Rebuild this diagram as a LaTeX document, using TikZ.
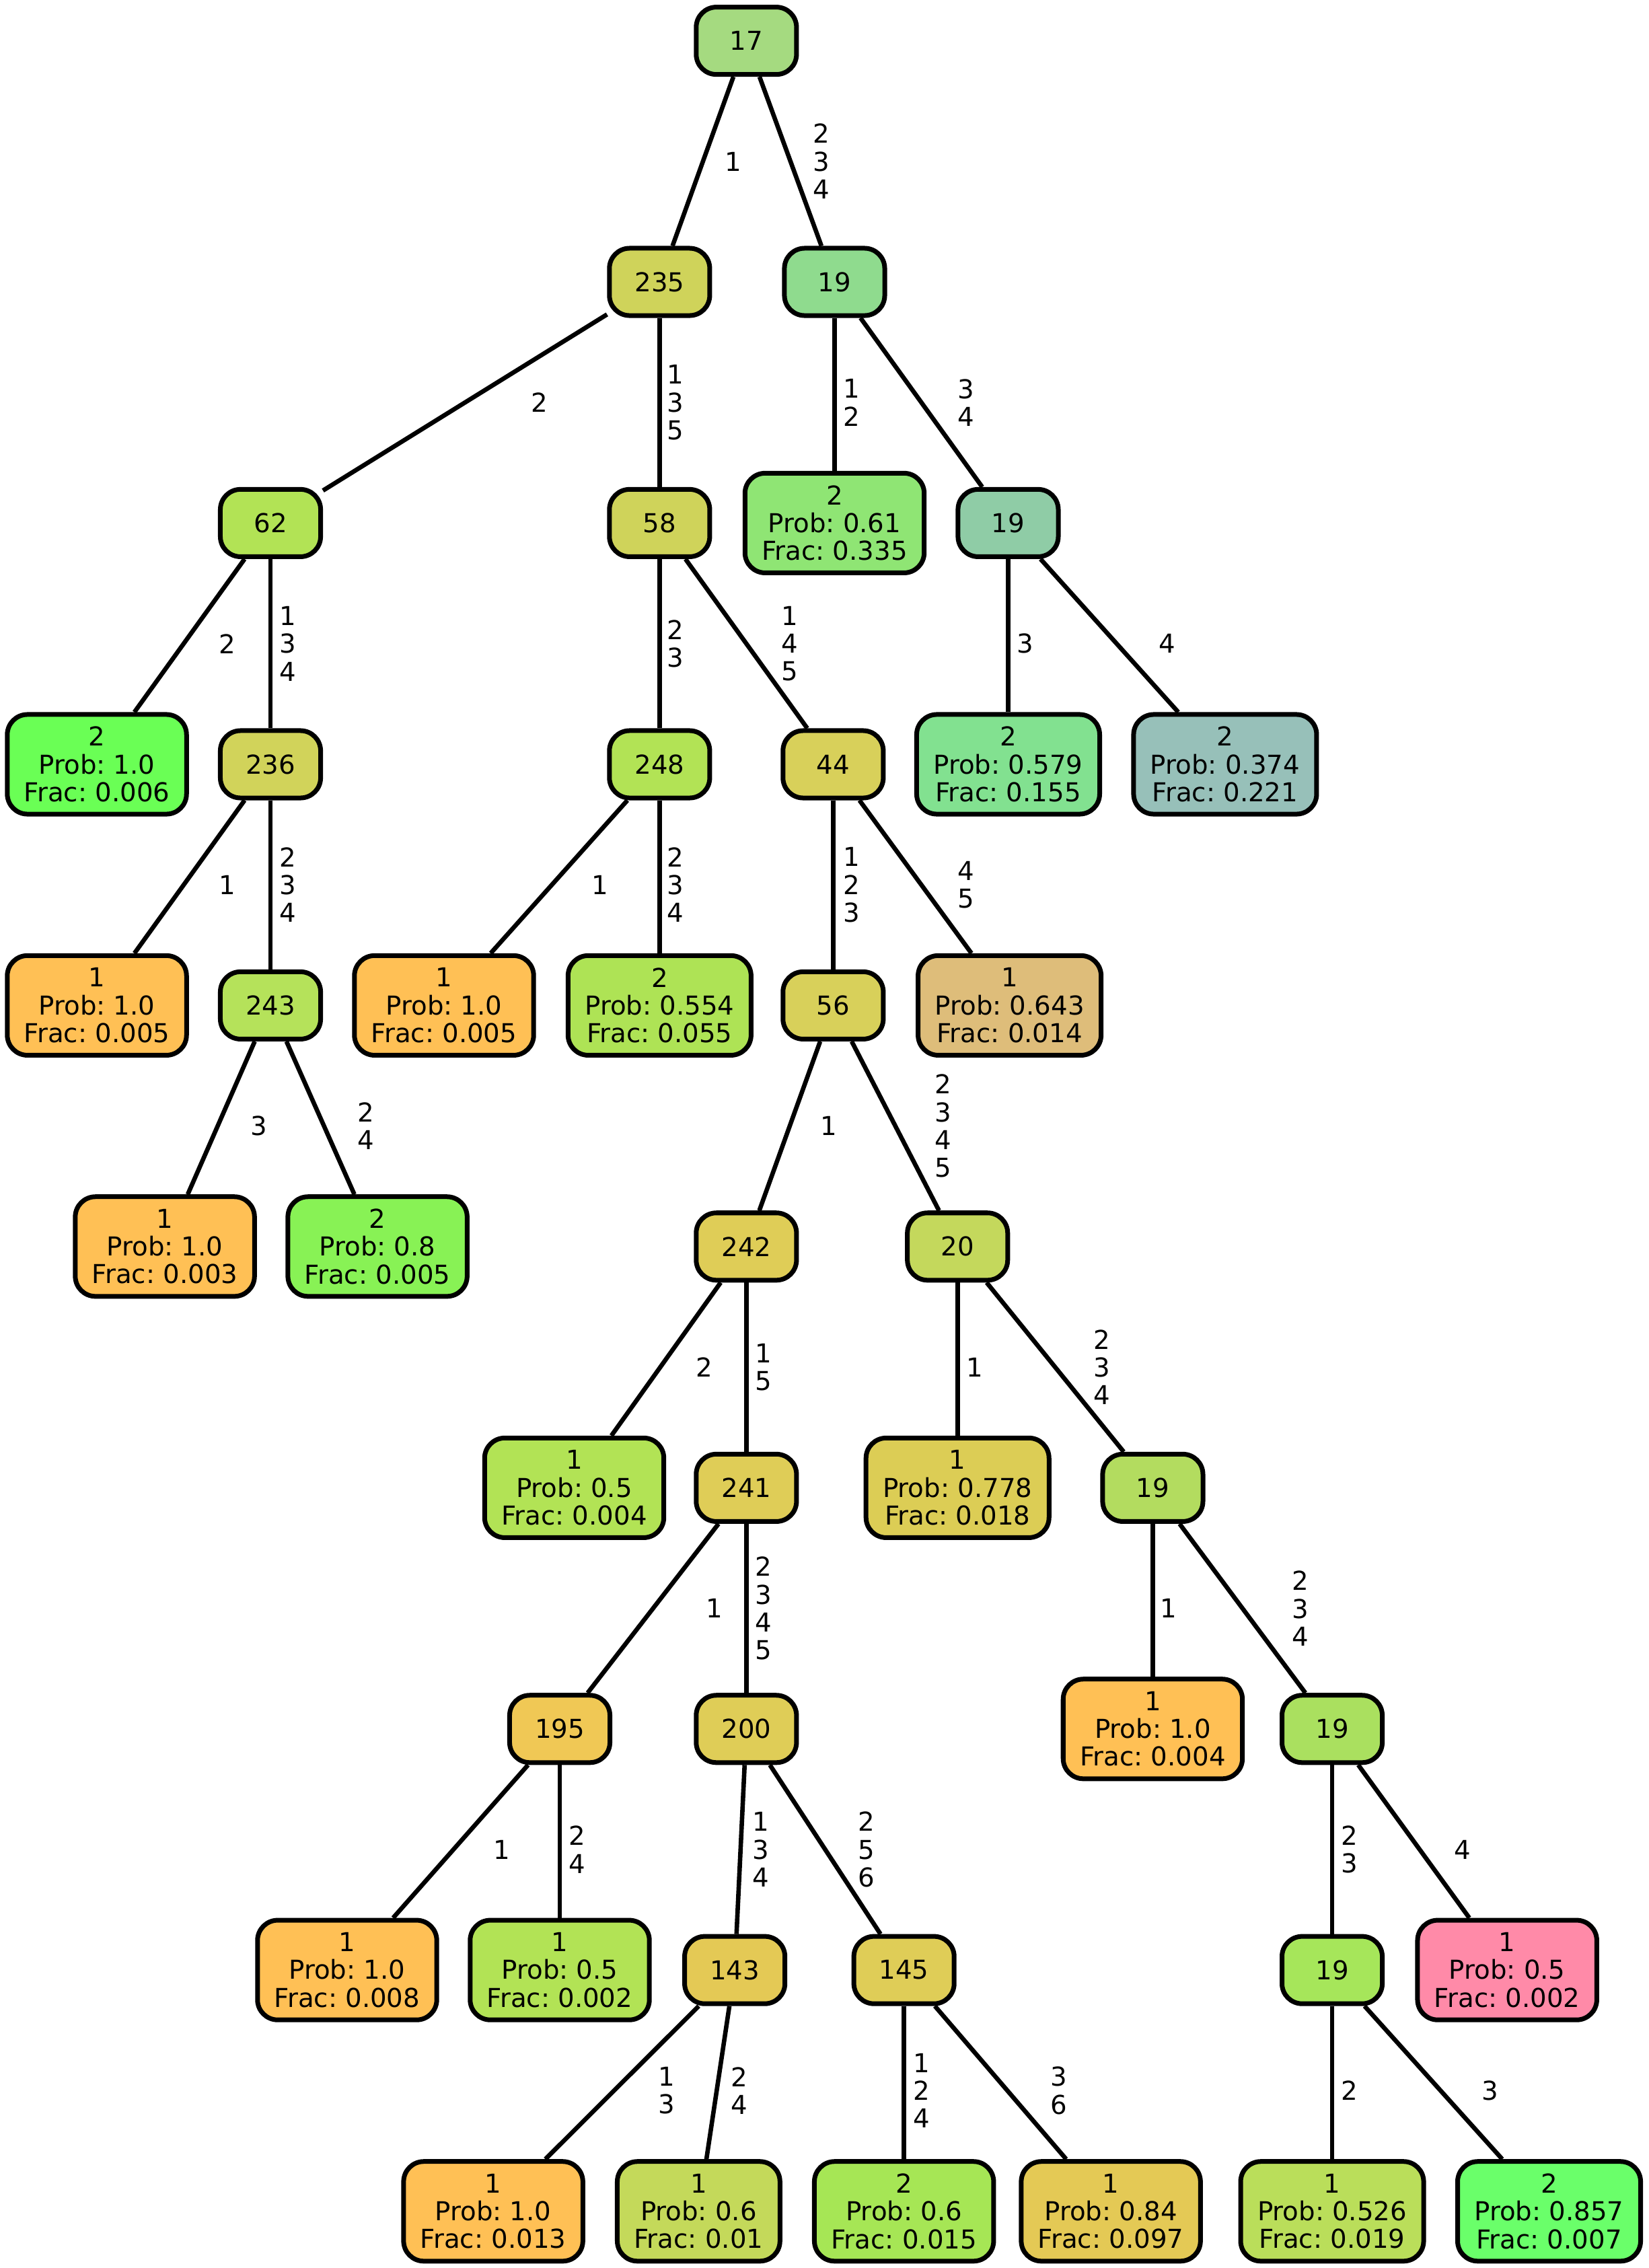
\documentclass[tikz,border=0pt]{standalone}
\usepackage{fontspec}
\setmainfont{DejaVu Sans}
\frenchspacing
% fill colours of the tree nodes
\definecolor{cA}{RGB}{165,218,128}
\definecolor{cB}{RGB}{207,211,90}
\definecolor{cC}{RGB}{143,219,142}
\definecolor{cD}{RGB}{178,227,85}
\definecolor{cE}{RGB}{143,229,116}
\definecolor{cF}{RGB}{143,204,166}
\definecolor{cG}{RGB}{106,255,85}
\definecolor{cH}{RGB}{209,211,90}
\definecolor{cI}{RGB}{216,208,90}
\definecolor{cJ}{RGB}{130,225,144}
\definecolor{cK}{RGB}{151,192,185}
\definecolor{cOr}{RGB}{255,192,85}
\definecolor{cL}{RGB}{181,226,90}
\definecolor{cM}{RGB}{174,227,85}
\definecolor{cN}{RGB}{222,189,122}
\definecolor{cP}{RGB}{136,242,85}
\definecolor{cQ}{RGB}{223,205,87}
\definecolor{cR}{RGB}{196,216,92}
\definecolor{cS}{RGB}{220,205,85}
\definecolor{cT}{RGB}{179,220,95}
\definecolor{cU}{RGB}{240,200,85}
\definecolor{cV}{RGB}{170,224,95}
\definecolor{cW}{RGB}{228,201,85}
\definecolor{cX}{RGB}{166,230,90}
\definecolor{cPink}{RGB}{255,138,168}
\definecolor{cY}{RGB}{196,217,90}
\definecolor{cZ}{RGB}{166,230,85}
\definecolor{cAA}{RGB}{186,222,90}
\definecolor{cAB}{RGB}{106,255,106}
\begin{document}
\begin{tikzpicture}[x=0.02149cm, y=-0.02149cm,
  every node/.style={font=\fontsize{11}{11.75}\selectfont},
  box/.style={draw=black, line width=0.07cm, rounded corners=0.3cm,
    align=center, inner xsep=0.25cm, inner ysep=0pt},
  small/.style={box, minimum width=1.49cm, minimum height=1.0cm},
  leaf/.style={box, minimum width=1.49cm, minimum height=1.48cm},
  lbl/.style={align=center, inner sep=0pt},
  edge/.style={line width=0.066cm}]
\useasboundingbox (0,0) rectangle (1140,1568);

% row 0
\node[small, fill=cA] (n17) at (516,28.2) {17};
% row 1
\node[small, fill=cB] (n235) at (456,194.9) {235};
\node[small, fill=cC] (n19a) at (577,194.9) {19};
% row 2
\node[small, fill=cD] (n62) at (187,361.6) {62};
\node[small, fill=cB] (n58) at (456,361.6) {58};
\node[leaf, fill=cE] (l061) at (577,361.6) {2\\Prob: 0.61\\Frac: 0.335};
\node[small, fill=cF] (n19b) at (697,361.6) {19};
% row 3
\node[leaf, fill=cG] (l006) at (67,528.4) {2\\Prob: 1.0\\Frac: 0.006};
\node[small, fill=cH] (n236) at (187,528.4) {236};
\node[small, fill=cD] (n248) at (456,528.4) {248};
\node[small, fill=cI] (n44) at (576,528.4) {44};
\node[leaf, fill=cJ] (l0579) at (697,528.4) {2\\Prob: 0.579\\Frac: 0.155};
\node[leaf, fill=cK] (l0374) at (847,528.4) {2\\Prob: 0.374\\Frac: 0.221};
% row 4
\node[leaf, fill=cOr] (lA) at (67,695.1) {1\\Prob: 1.0\\Frac: 0.005};
\node[small, fill=cL] (n243) at (187,695.1) {243};
\node[leaf, fill=cOr] (lB) at (307,695.1) {1\\Prob: 1.0\\Frac: 0.005};
\node[leaf, fill=cM] (l0554) at (456,695.1) {2\\Prob: 0.554\\Frac: 0.055};
\node[small, fill=cI] (n56) at (576,695.1) {56};
\node[leaf, fill=cN] (l0643) at (698,695.1) {1\\Prob: 0.643\\Frac: 0.014};
% row 5
\node[leaf, fill=cOr] (lC) at (114,861.8) {1\\Prob: 1.0\\Frac: 0.003};
\node[leaf, fill=cP] (l08) at (261,861.8) {2\\Prob: 0.8\\Frac: 0.005};
\node[small, fill=cQ] (n242) at (516,861.8) {242};
\node[small, fill=cR] (n20) at (662,861.8) {20};
% row 6
\node[leaf, fill=cD] (lD) at (397,1028.6) {1\\Prob: 0.5\\Frac: 0.004};
\node[small, fill=cQ] (n241) at (516,1028.6) {241};
\node[leaf, fill=cS] (l0778) at (662,1028.6) {1\\Prob: 0.778\\Frac: 0.018};
\node[small, fill=cT] (n19c) at (797,1028.6) {19};
% row 7
\node[small, fill=cU] (n195) at (387,1195.3) {195};
\node[small, fill=cQ] (n200) at (516,1195.3) {200};
\node[leaf, fill=cOr] (lE) at (797,1195.3) {1\\Prob: 1.0\\Frac: 0.004};
\node[small, fill=cV] (n19d) at (921,1195.3) {19};
% row 8
\node[leaf, fill=cOr] (lF) at (240,1362) {1\\Prob: 1.0\\Frac: 0.008};
\node[leaf, fill=cD] (lG) at (387,1362) {1\\Prob: 0.5\\Frac: 0.002};
\node[small, fill=cW] (n143) at (508,1362) {143};
\node[small, fill=cQ] (n145) at (625,1362) {145};
\node[small, fill=cX] (n19e) at (921,1362) {19};
\node[leaf, fill=cPink] (lH) at (1042,1362) {1\\Prob: 0.5\\Frac: 0.002};
% row 9
\node[leaf, fill=cOr] (lI) at (341,1528.8) {1\\Prob: 1.0\\Frac: 0.013};
\node[leaf, fill=cY] (lJ) at (483,1528.8) {1\\Prob: 0.6\\Frac: 0.01};
\node[leaf, fill=cZ] (lK) at (625,1528.8) {2\\Prob: 0.6\\Frac: 0.015};
\node[leaf, fill=cW] (lL) at (768,1528.8) {1\\Prob: 0.84\\Frac: 0.097};
\node[leaf, fill=cAA] (lM) at (921,1528.8) {1\\Prob: 0.526\\Frac: 0.019};
\node[leaf, fill=cAB] (lN) at (1071,1528.8) {2\\Prob: 0.857\\Frac: 0.007};

% connectors
\draw[edge] (n17) -- (n235);
\draw[edge] (n17) -- (n19a);
\draw[edge] (n235) -- (n62);
\draw[edge] (n235) -- (n58);
\draw[edge] (n19a) -- (l061);
\draw[edge] (n19a) -- (n19b);
\draw[edge] (n62) -- (l006);
\draw[edge] (n62) -- (n236);
\draw[edge] (n58) -- (n248);
\draw[edge] (n58) -- (n44);
\draw[edge] (n19b) -- (l0579);
\draw[edge] (n19b) -- (l0374);
\draw[edge] (n236) -- (lA);
\draw[edge] (n236) -- (n243);
\draw[edge] (n248) -- (lB);
\draw[edge] (n248) -- (l0554);
\draw[edge] (n44) -- (n56);
\draw[edge] (n44) -- (l0643);
\draw[edge] (n243) -- (lC);
\draw[edge] (n243) -- (l08);
\draw[edge] (n56) -- (n242);
\draw[edge] (n56) -- (n20);
\draw[edge] (n242) -- (lD);
\draw[edge] (n242) -- (n241);
\draw[edge] (n20) -- (l0778);
\draw[edge] (n20) -- (n19c);
\draw[edge] (n241) -- (n195);
\draw[edge] (n241) -- (n200);
\draw[edge] (n19c) -- (lE);
\draw[edge] (n19c) -- (n19d);
\draw[edge] (n195) -- (lF);
\draw[edge] (n195) -- (lG);
\draw[edge] (n200) -- (n143);
\draw[edge] (n200) -- (n145);
\draw[edge] (n19d) -- (n19e);
\draw[edge] (n19d) -- (lH);
\draw[edge] (n143) -- (lI);
\draw[edge] (n143) -- (lJ);
\draw[edge] (n145) -- (lK);
\draw[edge] (n145) -- (lL);
\draw[edge] (n19e) -- (lM);
\draw[edge] (n19e) -- (lN);

% connector labels
\node[lbl] (t01) at (507,111.6) {1};
\node[lbl] (t02) at (568,111.6) {2\\3\\4};
\node[lbl] (t03) at (373,278.3) {2};
\node[lbl] (t04) at (467,278.3) {1\\3\\5};
\node[lbl] (t05) at (589,278.3) {1\\2};
\node[lbl] (t06) at (668,278.3) {3\\4};
\node[lbl] (t07) at (157,445) {2};
\node[lbl] (t08) at (199,445) {1\\3\\4};
\node[lbl] (t09) at (467,445) {2\\3};
\node[lbl] (t10) at (546,445) {1\\4\\5};
\node[lbl] (t11) at (709,445) {3};
\node[lbl] (t12) at (807,445) {4};
\node[lbl] (t13) at (157,611.8) {1};
\node[lbl] (t14) at (199,611.8) {2\\3\\4};
\node[lbl] (t15) at (415,611.8) {1};
\node[lbl] (t16) at (467,611.8) {2\\3\\4};
\node[lbl] (t17) at (589,611.8) {1\\2\\3};
\node[lbl] (t18) at (668,611.8) {4\\5};
\node[lbl] (t19) at (179,778.5) {3};
\node[lbl] (t20) at (253,778.5) {2\\4};
\node[lbl] (t21) at (573,778.5) {1};
\node[lbl] (t22) at (652,778.5) {2\\3\\4\\5};
\node[lbl] (t23) at (487,945.2) {2};
\node[lbl] (t24) at (528,945.2) {1\\5};
\node[lbl] (t25) at (674,945.2) {1};
\node[lbl] (t26) at (762,945.2) {2\\3\\4};
\node[lbl] (t27) at (494,1112) {1};
\node[lbl] (t28) at (528,1112) {2\\3\\4\\5};
\node[lbl] (t29) at (808,1112) {1};
\node[lbl] (t30) at (899,1112) {2\\3\\4};
\node[lbl] (t31) at (347,1278.7) {1};
\node[lbl] (t32) at (399,1278.7) {2\\4};
\node[lbl] (t33) at (526,1278.7) {1\\3\\4};
\node[lbl] (t34) at (599,1278.7) {2\\5\\6};
\node[lbl] (t35) at (933,1278.7) {2\\3};
\node[lbl] (t36) at (1011,1278.7) {4};
\node[lbl] (t37) at (461,1445.4) {1\\3};
\node[lbl] (t38) at (511,1445.4) {2\\4};
\node[lbl] (t39) at (637,1445.4) {1\\2\\4};
\node[lbl] (t40) at (732,1445.4) {3\\6};
\node[lbl] (t41) at (933,1445.4) {2};
\node[lbl] (t42) at (1030,1445.4) {3};
\end{tikzpicture}
\end{document}
